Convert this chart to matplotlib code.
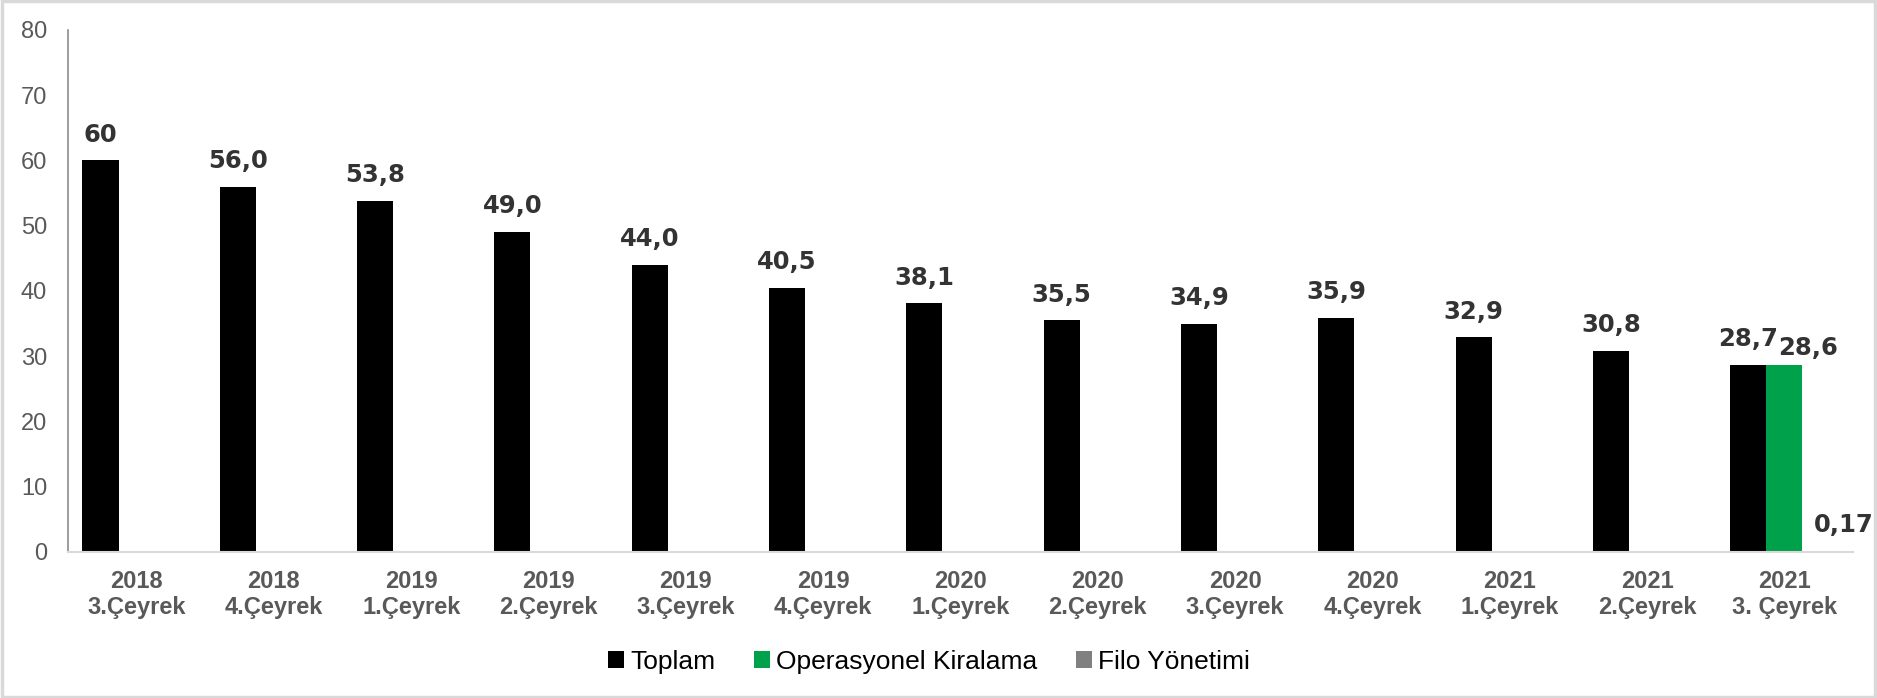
import matplotlib.pyplot as plt
import numpy as np
from matplotlib.patches import Patch, Rectangle

years = ['2018', '2018', '2019', '2019', '2019', '2019', '2020', '2020',
         '2020', '2020', '2021', '2021', '2021']
quarters = ['3.Çeyrek', '4.Çeyrek', '1.Çeyrek', '2.Çeyrek', '3.Çeyrek',
            '4.Çeyrek', '1.Çeyrek', '2.Çeyrek', '3.Çeyrek', '4.Çeyrek',
            '1.Çeyrek', '2.Çeyrek', '3. Çeyrek']

toplam = [60, 56.0, 53.8, 49.0, 44.0, 40.5, 38.1, 35.5, 34.9, 35.9, 32.9, 30.8, 28.7]
toplam_labels = ['60', '56,0', '53,8', '49,0', '44,0', '40,5', '38,1', '35,5',
                 '34,9', '35,9', '32,9', '30,8', '28,7']
operasyonel = [np.nan] * 12 + [28.6]
operasyonel_labels = [''] * 12 + ['28,6']
filo = [np.nan] * 12 + [0.17]
filo_labels = [''] * 12 + ['0,17']

series_names = ['Toplam', 'Operasyonel Kiralama', 'Filo Yönetimi']
colors = ['#000000', '#00A14B', '#808080']

fig = plt.figure(figsize=(18.77, 6.98), dpi=100)
ax = fig.add_axes([0.0362, 0.2092, 0.951, 0.748])

x = np.arange(len(years))
w = 0.263
label_font = dict(fontsize=17.5, fontweight='bold', color='#333333',
                  family=['DejaVu Sans'])
# labels in the last group are nudged right in the original, like excel did it
shift = {(1, 12): (17, -6), (2, 12): (17, 0)}

for k, (vals, labs) in enumerate([(toplam, toplam_labels),
                                  (operasyonel, operasyonel_labels),
                                  (filo, filo_labels)]):
    xs = x + (k - 1) * w
    ax.bar(xs, vals, width=w, color=colors[k], label=series_names[k])
    for i, (xi, v, lab) in enumerate(zip(xs, vals, labs)):
        if lab:
            dx, dy = shift.get((k, i), (0, 0))
            ax.annotate(lab, (xi, v), xytext=(dx, 13.5 + dy), textcoords='offset points',
                        ha='center', va='baseline', **label_font)

ax.set_xlim(-0.5, len(years) - 0.5)
ax.set_ylim(0, 80)
ax.set_yticks(range(0, 81, 10))
ax.set_xticks(x)
ax.set_xticklabels([f'{y}\n{q}' for y, q in zip(years, quarters)],
                   fontsize=17, fontweight='bold', color='#595959',
                   family=['Liberation Sans'], linespacing=1.15)
for t in ax.get_yticklabels():
    t.set_fontsize(17)
    t.set_color('#595959')
    t.set_family(['Liberation Sans'])

ax.tick_params(axis='both', length=0)
ax.tick_params(axis='y', pad=15)
ax.tick_params(axis='x', pad=13)

for s in ['top', 'right']:
    ax.spines[s].set_visible(False)
ax.spines['left'].set_color('#8c8c8c')
ax.spines['left'].set_linewidth(1.2)
ax.spines['bottom'].set_color('#d9d9d9')
ax.spines['bottom'].set_linewidth(1.5)

handles = [Patch(facecolor=c, label=n) for c, n in zip(colors, series_names)]
fig.legend(handles=handles, loc='center', bbox_to_anchor=(0.495, 0.052),
           ncol=3, frameon=False, handlelength=0.6, handleheight=0.6,
           handletextpad=0.25, columnspacing=1.45,
           prop={'family': ['Liberation Sans'], 'size': 19})

fig.patches.append(Rectangle((0.001, 0.002), 0.998, 0.996, transform=fig.transFigure,
                             fill=False, edgecolor='#d9d9d9', linewidth=2.5))

fig.savefig('out.png', dpi=100)
